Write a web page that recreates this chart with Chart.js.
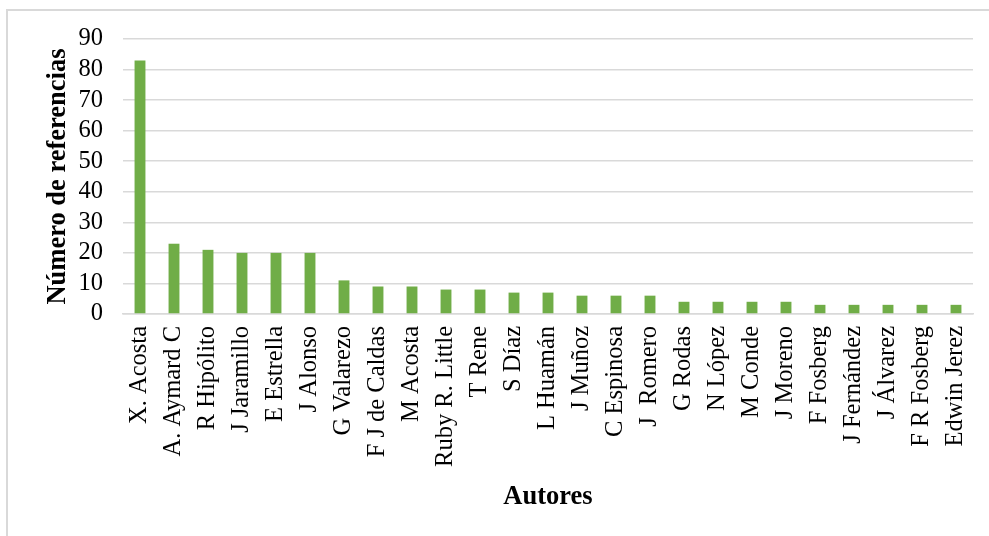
<!DOCTYPE html>
<html>
<head>
<meta charset="utf-8">
<title>Número de referencias por autor</title>
<script src="https://cdn.jsdelivr.net/npm/chart.js@4"></script>
<style>
  html, body { margin: 0; padding: 0; background: #fff; overflow: hidden; }
  #frame {
    position: absolute; left: 6px; top: 9px;
    width: 1000px; height: 600px;
    border: 2px solid #d9d9d9;
  }
  #bar-chart { position: absolute; left: 0; top: 0; }
</style>
</head>
<body>
<div id="frame"></div>
<canvas id="bar-chart" width="989" height="536"></canvas>
<script>
// Authors and how many references each one has
var autores = ["X. Acosta", "A. Aymard C", "R Hipólito", "J Jaramillo", "E Estrella",
  "J Alonso", "G Valarezo", "F J de Caldas", "M Acosta", "Ruby R. Little",
  "T Rene", "S Díaz", "L Huamán", "J Muñoz", "C Espinosa",
  "J  Romero", "G Rodas", "N López", "M Conde", "J Moreno",
  "F Fosberg", "J Fernández", "J Álvarez", "F R Fosberg", "Edwin Jerez"];
var referencias = [83, 23, 21, 20, 20,
  20, 11, 9, 9, 8,
  8, 7, 7, 6, 6,
  6, 4, 4, 4, 4,
  3, 3, 3, 3, 3];
var yTicks = [0, 10, 20, 30, 40, 50, 60, 70, 80, 90];

var serif = "'Liberation Serif', 'Times New Roman', serif";

var ctx = document.getElementById("bar-chart");

var chartData = {
  labels: autores,
  datasets: [{
    label: "Número de referencias",
    data: referencias,
    backgroundColor: "#70AD47",
    borderWidth: 0,
    barPercentage: 0.32,
    categoryPercentage: 1.0
  }]
};

var config = {
  type: 'bar',
  data: chartData,
  options: {
    responsive: false,
    animation: false,
    layout: { padding: { top: 39, right: 16, left: 0, bottom: 0 } },
    plugins: {
      legend: { display: false },
      tooltip: { enabled: false }
    },
    scales: {
      x: {
        grid: { display: false, drawTicks: false },
        border: { color: "#d9d9d9", width: 1.5 },
        ticks: {
          autoSkip: false,
          maxRotation: 90,
          minRotation: 90,
          padding: 12,
          color: "#000",
          font: { family: serif, size: 24.5 }
        },
        title: {
          display: true,
          text: "Autores",
          color: "#000",
          font: { family: serif, size: 26.5, weight: "bold" },
          padding: { top: 0, bottom: 23 }
        },
        afterFit: function(scale) {
          scale.height = 222;
          scale.paddingLeft = 0;
          scale.paddingRight = 0;
        }
      },
      y: {
        min: 0,
        max: 90,
        afterBuildTicks: function(scale) {
          scale.ticks = yTicks.map(function(v) { return { value: v }; });
        },
        grid: { color: "#d9d9d9", lineWidth: 1.5, drawTicks: false },
        border: { display: false },
        ticks: {
          autoSkip: false,
          padding: 20,
          color: "#000",
          font: { family: serif, size: 24.5 }
        },
        title: {
          display: true,
          text: "Número de referencias",
          color: "#000",
          font: { family: serif, size: 26.5, weight: "bold" },
          padding: { top: 42, bottom: 0 }
        },
        afterFit: function(scale) { scale.width = 123; }
      }
    }
  }
};

var barChart = new Chart(ctx, config);
</script>
</body>
</html>
